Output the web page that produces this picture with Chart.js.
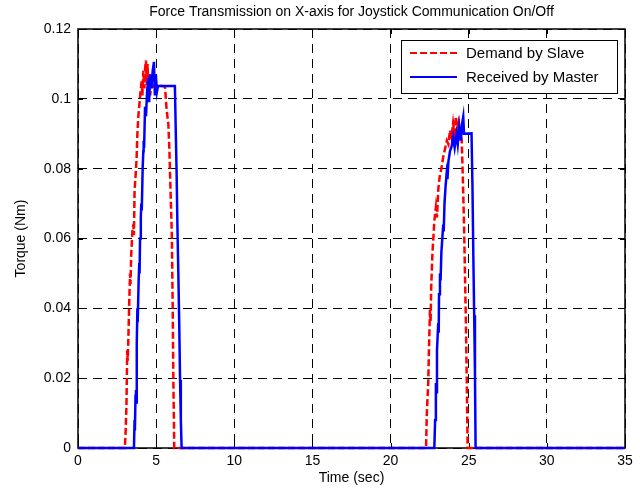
<!DOCTYPE html>
<html>
<head>
<meta charset="utf-8">
<script src="https://cdn.jsdelivr.net/npm/chart.js@4/dist/chart.umd.min.js"></script>
<style>
  html, body { margin: 0; padding: 0; background: #fff; }
  #wrap { width: 640px; height: 492px; }
</style>
</head>
<body>
<div id="wrap"><canvas id="torqueChart"></canvas></div>
<script>
// values (time in sec, torque in Nm)
var demandTime = [0, 3.0, 3.05, 3.1, 3.15, 3.18, 3.22, 3.28, 3.33, 3.36, 3.4, 3.48, 3.54, 3.58, 3.62, 3.7, 3.75, 3.8, 3.86, 3.92, 4.0, 4.07, 4.12, 4.18, 4.25, 4.3, 4.35, 4.4, 4.45, 4.5, 4.56, 4.62, 4.7, 4.8, 5.0, 5.57, 5.65, 5.72, 5.78, 5.85, 5.95, 6.0, 6.06, 6.1, 6.16,
  22.27, 22.32, 22.41, 22.45, 22.52, 22.56, 22.6, 22.68, 22.73, 22.8, 22.9, 22.97, 23.05, 23.15, 23.25, 23.37, 23.5, 23.6, 23.7, 23.8, 23.9, 24.0, 24.08, 24.18, 24.25, 24.35, 24.45, 24.55, 24.62, 24.7, 24.76, 24.82, 24.88, 24.93, 35];
var demandTorque = [0, 0, 0.005, 0.012, 0.028, 0.025, 0.031, 0.042, 0.05, 0.047, 0.055, 0.062, 0.064, 0.061, 0.074, 0.079, 0.083, 0.09, 0.095, 0.098, 0.102, 0.105, 0.101, 0.108, 0.103, 0.109, 0.111, 0.104, 0.11, 0.102, 0.107, 0.101, 0.105, 0.1035, 0.104, 0.1035, 0.098, 0.095, 0.093, 0.085, 0.069, 0.062, 0.04, 0.02, 0,
  0, 0.01, 0.0185, 0.027, 0.0395, 0.036, 0.046, 0.056, 0.0596, 0.065, 0.069, 0.066, 0.0739, 0.078, 0.08, 0.0834, 0.086, 0.088, 0.087, 0.091, 0.089, 0.093, 0.09, 0.0949, 0.09, 0.093, 0.09, 0.0882, 0.078, 0.064, 0.05, 0.0358, 0.018, 0, 0];

var masterTime = [0, 3.58, 3.62, 3.64, 3.68, 3.71, 3.73, 3.76, 3.8, 3.82, 3.88, 3.92, 3.94, 3.97, 4.02, 4.05, 4.08, 4.14, 4.18, 4.2, 4.23, 4.29, 4.35, 4.42, 4.5, 4.55, 4.62, 4.7, 4.78, 4.86, 4.92, 4.98, 5.05, 5.12, 6.2, 6.25, 6.31, 6.36, 6.42, 6.48, 6.53, 6.58, 6.63,
  22.8, 22.85, 22.9, 22.93, 22.97, 23.05, 23.08, 23.1, 23.16, 23.2, 23.25, 23.37, 23.4, 23.45, 23.52, 23.59, 23.64, 23.7, 23.8, 23.9, 24.0, 24.1, 24.22, 24.3, 24.4, 24.5, 24.58, 24.65, 24.7, 25.18, 25.24, 25.29, 25.35, 25.4, 25.44, 35];
var masterTorque = [0, 0, 0.008, 0.005, 0.015, 0.0166, 0.013, 0.03, 0.04, 0.036, 0.048, 0.053, 0.05, 0.06, 0.066, 0.07, 0.068, 0.0806, 0.085, 0.088, 0.086, 0.0977, 0.095, 0.102, 0.106, 0.099, 0.107, 0.103, 0.108, 0.1106, 0.101, 0.107, 0.102, 0.1037, 0.1037, 0.092, 0.0787, 0.064, 0.05, 0.035, 0.0195, 0.008, 0,
  0, 0.008, 0.0186, 0.016, 0.028, 0.0358, 0.033, 0.044, 0.05, 0.048, 0.056, 0.064, 0.062, 0.07, 0.075, 0.0787, 0.077, 0.082, 0.085, 0.0863, 0.089, 0.086, 0.09, 0.087, 0.092, 0.088, 0.093, 0.0949, 0.09, 0.0901, 0.075, 0.0567, 0.038, 0.0214, 0, 0];

var xTicks = [0, 5, 10, 15, 20, 25, 30, 35];
var yTicks = [0, 0.02, 0.04, 0.06, 0.08, 0.1, 0.12];
var seriesNames = ['Demand by Slave', 'Received by Master'];

function toPoints(xs, ys) {
    return xs.map(function (x, i) { return { x: x, y: ys[i] }; });
}

var FONT = '"Liberation Sans", Arial, sans-serif';

// MATLAB-like box, inward ticks, title and legend
var matlabLook = {
    id: 'matlabLook',
    beforeDatasetsDraw: function (chart) {
        var ctx = chart.ctx, a = chart.chartArea;
        var xs = chart.scales.x, ys = chart.scales.y;
        ctx.save();
        ctx.strokeStyle = '#000';
        ctx.lineWidth = 1;
        ctx.beginPath();
        xTicks.forEach(function (v) {
            var px = Math.round(xs.getPixelForValue(v)) + 0.5;
            ctx.moveTo(px, a.bottom); ctx.lineTo(px, a.bottom - 5);
            ctx.moveTo(px, a.top); ctx.lineTo(px, a.top + 5);
        });
        yTicks.forEach(function (v) {
            var py = Math.round(ys.getPixelForValue(v)) + 0.5;
            ctx.moveTo(a.left, py); ctx.lineTo(a.left + 5, py);
            ctx.moveTo(a.right, py); ctx.lineTo(a.right - 5, py);
        });
        ctx.stroke();
        ctx.lineWidth = 1.5;
        ctx.strokeRect(a.left, a.top, a.right - a.left, a.bottom - a.top);
        ctx.restore();
    },
    afterDraw: function (chart) {
        var ctx = chart.ctx, a = chart.chartArea;
        ctx.save();
        ctx.fillStyle = '#000';
        ctx.font = '14px ' + FONT;
        ctx.textAlign = 'center';
        ctx.textBaseline = 'middle';
        ctx.fillText('Force Transmission on X-axis for Joystick Communication On/Off', (a.left + a.right) / 2, 12);

        // legend box
        var bx = 401, by = 40, bw = 216, bh = 53;
        ctx.fillStyle = '#fff';
        ctx.fillRect(bx, by, bw, bh);
        ctx.strokeStyle = '#000';
        ctx.lineWidth = 1;
        ctx.strokeRect(bx + 0.5, by + 0.5, bw, bh);
        ctx.font = '15px ' + FONT;
        ctx.textAlign = 'left';
        chart.data.datasets.forEach(function (ds, i) {
            var ly = 53 + i * 24;
            ctx.strokeStyle = ds.borderColor;
            ctx.lineWidth = 2;
            ctx.setLineDash(ds.borderDash || []);
            ctx.beginPath();
            ctx.moveTo(410, ly); ctx.lineTo(457, ly);
            ctx.stroke();
            ctx.setLineDash([]);
            ctx.fillStyle = '#000';
            ctx.fillText(ds.label, 466, ly + 1);
        });
        ctx.restore();
    }
};

var ctx = document.getElementById('torqueChart').getContext('2d');
var torqueChart = new Chart(ctx, {
    type: 'line',
    data: {
        datasets: [{
            label: seriesNames[0],
            data: toPoints(demandTime, demandTorque),
            borderColor: '#ff0000',
            borderWidth: 2.5,
            borderDash: [7, 3],
            pointRadius: 0,
            tension: 0,
            order: 1,
            clip: 3
        }, {
            label: seriesNames[1],
            data: toPoints(masterTime, masterTorque),
            borderColor: '#0000ff',
            borderWidth: 2.5,
            pointRadius: 0,
            tension: 0,
            order: 0,
            clip: 3
        }]
    },
    plugins: [matlabLook],
    options: {
        responsive: true,
        maintainAspectRatio: false,
        animation: false,
        layout: { padding: { top: 29, right: 15, left: 0, bottom: 0 } },
        plugins: {
            legend: { display: false },
            tooltip: { enabled: false }
        },
        scales: {
            x: {
                type: 'linear',
                min: 0, max: 35,
                afterBuildTicks: function (s) { s.ticks = xTicks.map(function (v) { return { value: v }; }); },
                afterFit: function (s) { s.height = 44; },
                ticks: { color: '#000', font: { family: FONT, size: 14 }, padding: 5, maxRotation: 0 },
                grid: { color: '#000', lineWidth: 1, drawTicks: false },
                border: { display: false, dash: [9, 6] },
                title: { display: true, text: 'Time (sec)', color: '#000', font: { family: FONT, size: 14 }, padding: { top: 0, bottom: 5 } }
            },
            y: {
                type: 'linear',
                min: 0, max: 0.12,
                afterBuildTicks: function (s) { s.ticks = yTicks.map(function (v) { return { value: v }; }); },
                afterFit: function (s) { s.width = 78; },
                ticks: {
                    color: '#000', font: { family: FONT, size: 14 }, padding: 7,
                    callback: function (v) { return String(Math.round(v * 100) / 100); }
                },
                grid: { color: '#000', lineWidth: 1, drawTicks: false },
                border: { display: false, dash: [9, 6] },
                title: { display: true, text: 'Torque (Nm)', color: '#000', font: { family: FONT, size: 14 }, padding: { top: 13, bottom: 0 } }
            }
        }
    }
});
</script>
</body>
</html>
